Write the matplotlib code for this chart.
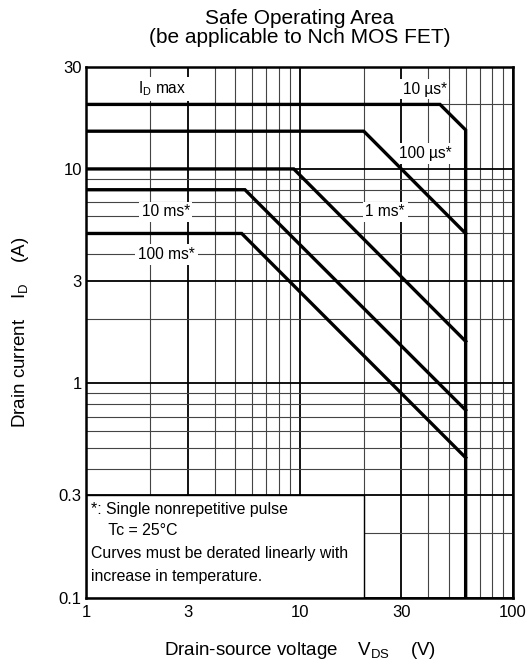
import matplotlib
matplotlib.use("Agg")
from matplotlib import pyplot as plt
from matplotlib.patches import Rectangle

plt.rcParams['font.family'] = ['Liberation Sans', 'DejaVu Sans']
plt.rcParams['mathtext.fontset'] = 'custom'
plt.rcParams['mathtext.rm'] = 'Liberation Sans'
plt.rcParams['mathtext.it'] = 'Liberation Sans'

# SOA curves: (V, I) corner points
v_10us = [1, 45.5, 60, 60]
i_10us = [20, 20, 15.2, 0.1]
v_100us = [1, 20, 60]
i_100us = [15, 15, 5.0]
v_1ms = [1, 9.4, 60]
i_1ms = [10, 10, 1.57]
v_10ms = [1, 5.55, 60]
i_10ms = [8, 8, 0.75]
v_100ms = [1, 5.36, 60]
i_100ms = [5, 5, 0.45]

x_ticks = [1, 3, 10, 30, 100]
x_ticklabels = ['1', '3', '10', '30', '100']
y_ticks = [0.1, 0.3, 1, 3, 10, 30]
y_ticklabels = ['0.1', '0.3', '1', '3', '10', '30']

labels = ['$\\mathregular{I_D}$ max', '10 µs*', '100 µs*', '10 ms*', '1 ms*', '100 ms*']
label_x = [2.27, 38.5, 39, 2.36, 25.2, 2.38]
label_y = [23.6, 23.6, 11.8, 6.3, 6.3, 4.0]

note_lines = ['*: Single nonrepetitive pulse',
              '    Tc = 25°C',
              'Curves must be derated linearly with',
              'increase in temperature.']
note_y = [0.259, 0.206, 0.16, 0.125]

fig = plt.figure(figsize=(5.28, 6.66), dpi=100)
ax = fig.add_axes([0.1629, 0.1026, 0.8087, 0.7973])
ax.set_xscale('log')
ax.set_yscale('log')
ax.set_xlim(1, 100)
ax.set_ylim(0.1, 30)

ax.grid(which='major', color='black', linewidth=1.3, zorder=0)
ax.grid(which='minor', color='#444444', linewidth=0.8, zorder=0)
ax.set_axisbelow(True)

for v, i in [(v_10us, i_10us), (v_100us, i_100us), (v_1ms, i_1ms),
             (v_10ms, i_10ms), (v_100ms, i_100ms)]:
    ax.plot(v, i, color='black', linewidth=2.4, solid_joinstyle='miter', zorder=4)

for t, x, y in zip(labels, label_x, label_y):
    ax.text(x, y, t, ha='center', va='center', fontsize=11.2, zorder=3,
            bbox=dict(facecolor='white', edgecolor='none', pad=2))

ax.add_patch(Rectangle((1, 0.1), 19, 0.2, facecolor='white', edgecolor='black',
                       linewidth=1.0, zorder=3))
for t, y in zip(note_lines, note_y):
    ax.text(1.06, y, t, ha='left', va='center', fontsize=11.4, zorder=4)

ax.set_xticks(x_ticks)
ax.set_xticklabels(x_ticklabels)
ax.set_yticks(y_ticks)
ax.set_yticklabels(y_ticklabels)
ax.tick_params(which='both', length=0, labelsize=12, pad=3)
ax.tick_params(axis='x', pad=5)
for s in ax.spines.values():
    s.set_linewidth(1.8)
    s.set_zorder(5)

ax.set_title('Safe Operating Area\n(be applicable to Nch MOS FET)', fontsize=15,
             linespacing=1.0, pad=17)
ax.set_xlabel('Drain-source voltage    $\\mathregular{V_{DS}}$    (V)', fontsize=13.5,
              labelpad=15)
ax.set_ylabel('Drain current    $\\mathregular{I_D}$    (A)', fontsize=13.5, labelpad=20)

fig.savefig('out.png', dpi=100)
